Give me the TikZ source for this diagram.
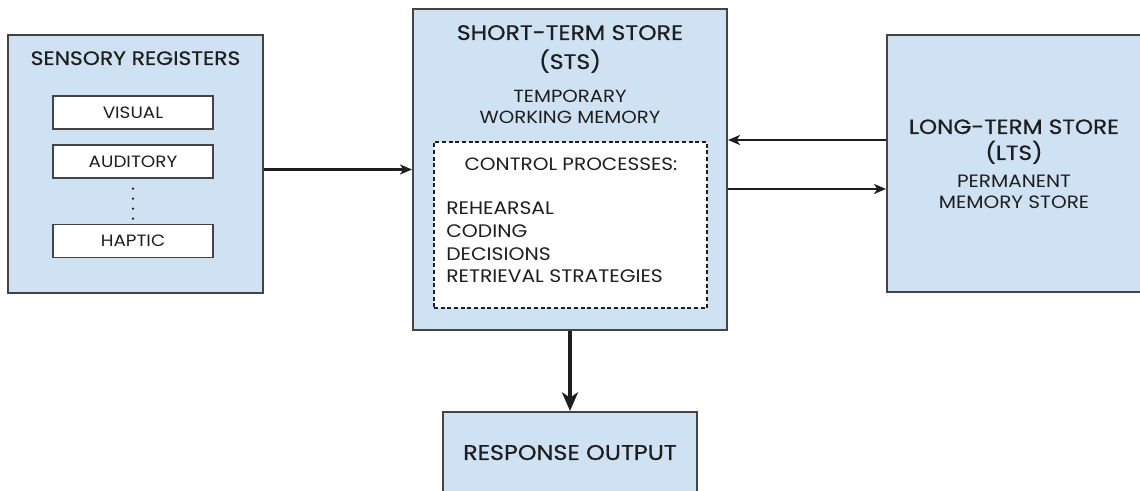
\documentclass[tikz,border=0pt]{standalone}
\usepackage{fontspec}
\setmainfont{Poppins}[FakeStretch=1.12]
\newfontfamily\headfont{Poppins}[FakeStretch=1.12,FakeBold=0.5]
\usetikzlibrary{arrows.meta}
\definecolor{storefill}{HTML}{CFE2F3}
\definecolor{storeline}{HTML}{444444}
\definecolor{ink}{HTML}{1E1E1E}

\begin{document}
\begin{tikzpicture}[x=0.75pt,y=-0.75pt,
  store/.style={rectangle,draw=storeline,fill=storefill,line width=1.5pt,inner sep=0pt},
  register/.style={rectangle,draw=storeline,fill=white,line width=1pt,inner sep=0pt,
    minimum width=120pt,minimum height=24.75pt,text=ink,font=\fontsize{12.3}{14}\selectfont},
  heading/.style={text=ink,align=center,anchor=base,inner sep=0pt},
  label/.style={text=ink,align=center,anchor=base,inner sep=0pt},
  flow/.style={-{Stealth[length=9pt,width=7.5pt,inset=2.5pt]},line width=1.6pt,ink},
  bigflow/.style={-{Stealth[length=14pt,width=12pt,inset=4pt]},line width=2.4pt,ink}]
\useasboundingbox (0,0) rectangle (1140,491);

% sensory registers
\node[store,minimum width=191.25pt,minimum height=193.5pt] (sens) at (135.5,164) {};
\draw (135.5,65) node[heading,font=\headfont\fontsize{14.6}{16}\selectfont] (senstitle) {SENSORY REGISTERS};
\node[register] (visual) at (133,112.5) {VISUAL};
\node[register] (audit) at (133,161.5) {AUDITORY};
\node[register] (haptic) at (133,241) {HAPTIC};
\draw[ink,line width=2pt,line cap=round,dash pattern=on 0pt off 7.5pt]
      ([yshift=-7.5pt]audit.south) -- (haptic.north);

% short-term store
\node[store,minimum width=235.5pt,minimum height=240.75pt] (sts) at (570,169.5) {};
\draw (570,69) node[heading,font=\headfont\fontsize{15.8}{21.75}\selectfont] (ststitle)
      {SHORT-TERM STORE\\(STS)};
\draw (570,124) node[label,font=\fontsize{13.2}{15.75}\selectfont] (stsnote)
      {TEMPORARY\\WORKING MEMORY};
\node[rectangle,draw=ink,fill=white,line width=0.8pt,dash pattern=on 3pt off 2pt,
      minimum width=204.75pt,minimum height=124.5pt] (ctrl) at (570.5,225) {};
\draw (571,171) node[label,font=\fontsize{13.4}{15}\selectfont] (ctrltitle)
      {CONTROL PROCESSES:};
\draw (446,283) node[label,align=left,anchor=base west,font=\fontsize{13.6}{17}\selectfont] (ctrllist)
      {REHEARSAL\\CODING\\DECISIONS\\RETRIEVAL STRATEGIES};

% long-term store
\node[store,minimum width=204.75pt,minimum height=192.75pt] (lts) at (1023.5,163.5) {};
\draw (1014,160) node[heading,font=\headfont\fontsize{15.5}{19.5}\selectfont] (ltstitle)
      {LONG-TERM STORE\\(LTS)};
\draw (1014,209) node[label,font=\fontsize{13.4}{15.75}\selectfont] (ltsnote)
      {PERMANENT\\MEMORY STORE};

% response output
\node[store,minimum width=190.5pt,minimum height=81pt] (resp) at (570,466) {};
\draw (570,460) node[heading,font=\headfont\fontsize{16}{17}\selectfont] (resptitle) {RESPONSE OUTPUT};

% connectors
\draw[flow] (sens.east |- sts.west) -- (sts.west);
\draw[flow] ([yshift=17.6pt]lts.west) -- ([yshift=17.6pt]lts.west -| sts.east);
\draw[flow] ([yshift=-14.6pt]sts.east) -- ([yshift=-14.6pt]sts.east -| lts.west);
\draw[bigflow] (sts.south) -- (resp.north);
\end{tikzpicture}
\end{document}
